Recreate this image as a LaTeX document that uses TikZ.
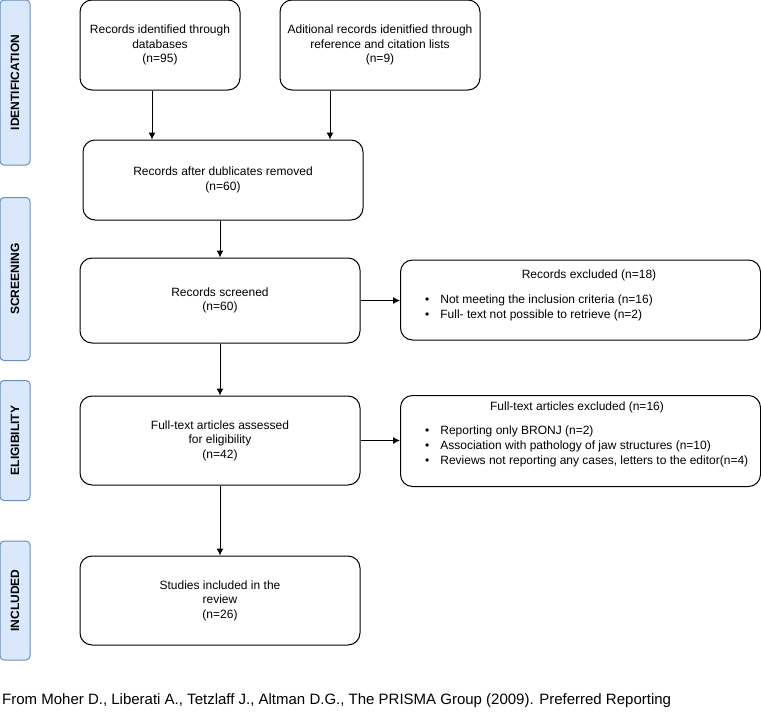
\documentclass[tikz,border=0pt]{standalone}
\usepackage{fontspec}
\setmainfont{Liberation Sans}
\usetikzlibrary{arrows.meta}
\definecolor{stagefill}{HTML}{DAE8FC}
\definecolor{stageline}{HTML}{6C8EBF}

\begin{document}
\begin{tikzpicture}[x=1pt,y=-1pt,>={Latex[length=7pt,width=7pt]},
 box/.style={draw,line width=1pt,rounded corners=12pt,align=center,
   inner sep=0pt,font=\fontsize{12}{14.5}\selectfont},
 stage/.style={draw=stageline,fill=stagefill,line width=1pt,
   rounded corners=4pt,rotate=90,minimum height=30pt,inner sep=0pt,
   font=\fontsize{12}{14}\selectfont\bfseries},
 txt/.style={inner sep=0pt,font=\fontsize{12}{15}\selectfont,align=left},
 arr/.style={->,line width=1pt}]
 \useasboundingbox (0,0) rectangle (761,715);
 % stages on the left
 \node[stage,minimum width=165pt] (sid) at (15,82.5) {IDENTIFICATION};
 \node[stage,minimum width=163pt] (ssc) at (15,279) {SCREENING};
 \node[stage,minimum width=120pt] (sel) at (15,440.5) {ELIGIBILITY};
 \node[stage,minimum width=119pt] (sin) at (15,600.5) {INCLUDED};
 % main column
 \node[box,minimum width=160pt,minimum height=90pt] (db) at (160,45)
   {Records identified through\\databases\\(n=95)};
 \node[box,minimum width=200pt,minimum height=90pt] (add) at (380,45)
   {Aditional records idenitfied through\\reference and citation lists\\(n=9)};
 \node[box,minimum width=280pt,minimum height=80pt] (dup) at (223,180)
   {Records after dublicates removed\\(n=60)};
 \node[box,minimum width=280pt,minimum height=85pt] (scr) at (220,300.5)
   {Records screened\\(n=60)};
 \node[box,minimum width=280pt,minimum height=89pt] (elig) at (220,440.5)
   {Full-text articles assessed\\for eligibility\\(n=42)};
 \node[box,minimum width=280pt,minimum height=89pt] (inc) at (220,600.5)
   {Studies included in the\\review\\(n=26)};
 % excluded boxes
 \node[box,minimum width=360pt,minimum height=80pt] (ex1) at (580.5,300) {};
 \node[txt] (ex1t) at (589,275) {Records excluded (n=18)};
 \node[txt,anchor=west] (ex1l) at (425,307.5)
   {\textbullet\hspace{11pt}Not meeting the inclusion criteria (n=16)\\
    \textbullet\hspace{11pt}Full- text not possible to retrieve (n=2)};
 \node[box,minimum width=360pt,minimum height=91pt] (ex2) at (580.5,441) {};
 \node[txt] (ex2t) at (577,407) {Full-text articles excluded (n=16)};
 \node[txt,anchor=west] (ex2l) at (425,446.5)
   {\textbullet\hspace{11pt}Reporting only BRONJ (n=2)\\
    \textbullet\hspace{11pt}Association with pathology of jaw structures (n=10)\\
    \textbullet\hspace{11pt}Reviews not reporting any cases, letters to the editor(n=4)};
 % arrows
 \draw[arr] ([xshift=-8pt]db.south) -- ([xshift=-8pt]db.south |- dup.north);
 \draw[arr] ([xshift=-50pt]add.south) -- ([xshift=-50pt]add.south |- dup.north);
 \draw[arr] (scr.north |- dup.south) -- (scr.north);
 \draw[arr] (scr) -- (elig);
 \draw[arr] (elig) -- (inc);
 \draw[arr] (scr.east) -- (scr.east -| ex1.west);
 \draw[arr] (elig.east) -- (elig.east -| ex2.west);
 % source line
 \node[txt,anchor=west,font=\fontsize{15}{17}\selectfont] (src) at (2,701)
   {From Moher D., Liberati A., Tetzlaff J., Altman D.G., The PRISMA Group (2009). Preferred Reporting};
\end{tikzpicture}
\end{document}
